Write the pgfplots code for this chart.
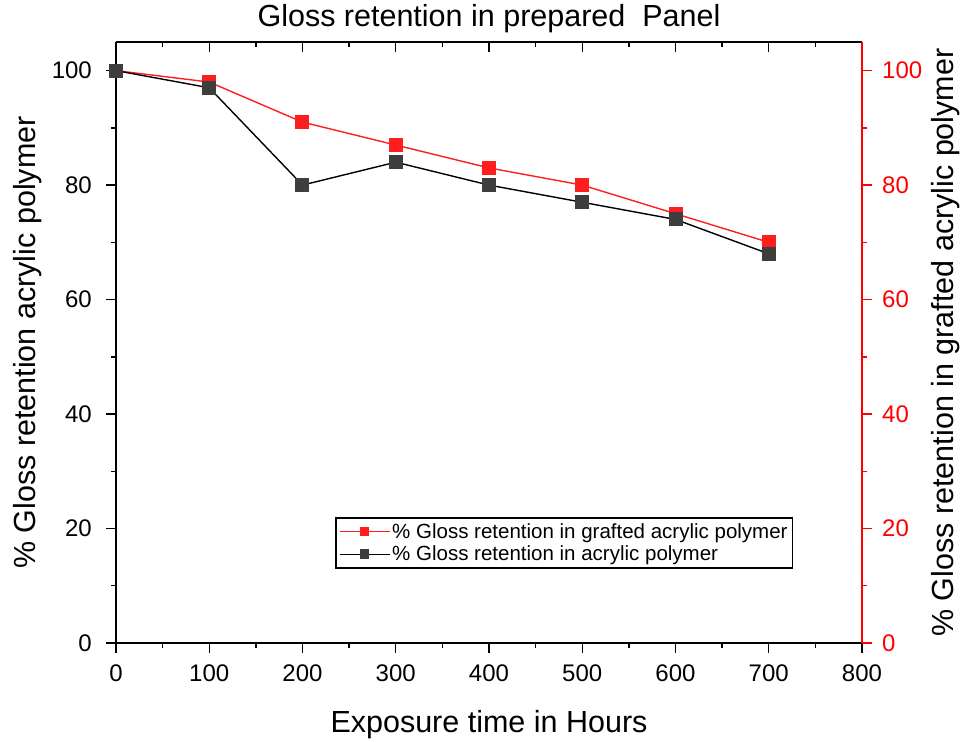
\documentclass[border=0pt]{standalone}
\usepackage{fontspec}
\setmainfont{Liberation Sans}
\usepackage{pgfplots}
\pgfplotsset{compat=1.18}
\definecolor{myred}{RGB}{255,30,30}
\definecolor{mygray}{RGB}{62,62,62}
\begin{document}
\begin{tikzpicture}
\pgfplotsset{
  base/.style={scale only axis, width=746bp, height=601bp,
    xmin=0, xmax=800, ymin=0, ymax=105, at={(0,0)}, anchor=south west,
    /pgf/number format/assume math mode=true,
    major tick length=10bp, minor tick length=5bp,
    xtick={0,100,...,800}, ytick={0,20,...,100},
    minor x tick num=1, minor y tick num=1,
    tick label style={font=\fontsize{24bp}{28bp}\selectfont, inner sep=0pt},
    every tick/.style={line width=1.4bp, black},
    axis line style={line width=1.5bp},
    clip=false}
}
\begin{axis}[base, axis x line*=bottom, axis y line*=left, tick align=outside,
  xticklabel style={anchor=north, yshift=-12bp},
  yticklabel style={anchor=east, xshift=-14bp},
  title={Gloss retention in prepared\ \ Panel},
  title style={at={(axis description cs:0.5,1)}, anchor=base, yshift=10bp, font=\fontsize{30.5bp}{36bp}\selectfont},
  xlabel={Exposure time in Hours},
  every axis x label/.style={at={(axis description cs:0.5,0)}, anchor=base, yshift=-89bp, font=\fontsize{30.5bp}{36bp}\selectfont},
  ylabel={\% Gloss retention acrylic polymer},
  every axis y label/.style={at={(axis description cs:-0.118,0.5)}, anchor=center, rotate=90, font=\fontsize{30.5bp}{36bp}\selectfont},
  legend style={at={(axis description cs:0.2936,0.2097)}, anchor=north west, draw=black, line width=1.6bp,
    font=\fontsize{20.5bp}{24bp}\selectfont, inner xsep=3bp, inner ysep=3.5bp, row sep=2.5bp, cells={anchor=west}},
  legend image code/.code={\draw[line width=1.4bp, mark repeat=2, mark phase=2, mark size=4.2bp] plot coordinates {(0bp,0bp) (25bp,0bp) (50bp,0bp)};},
]
\addplot[myred, line width=1.4bp, mark=square*, mark size=6.3bp, mark options={fill=myred, draw=myred}]
  coordinates {(0,100) (100,98) (200,91) (300,87) (400,83) (500,80) (600,75) (700,70)};
\addlegendentry{\% Gloss retention in grafted acrylic polymer}
\addplot[black, line width=1.4bp, mark=square*, mark size=6.3bp, mark options={fill=mygray, draw=mygray}]
  coordinates {(0,100) (100,97) (200,80) (300,84) (400,80) (500,77) (600,74) (700,68)};
\addlegendentry{\% Gloss retention in acrylic polymer}
\end{axis}
\begin{axis}[base, axis x line*=top, axis y line=none, tick align=inside, xticklabels={}]
\end{axis}
\begin{axis}[base, axis x line=none, axis y line*=right, tick align=outside,
  y axis line style={red}, y tick style={red},
  yticklabel style={red, anchor=west, xshift=10bp},
  ylabel={\% Gloss retention in grafted acrylic polymer},
  every axis y label/.style={at={(axis description cs:1.1126,0.5)}, anchor=center, rotate=90, font=\fontsize{30.5bp}{36bp}\selectfont},
]
\end{axis}
\pgfresetboundingbox
\path[use as bounding box] (-116bp,-99bp) rectangle (852bp,643bp);
\end{tikzpicture}
\end{document}
